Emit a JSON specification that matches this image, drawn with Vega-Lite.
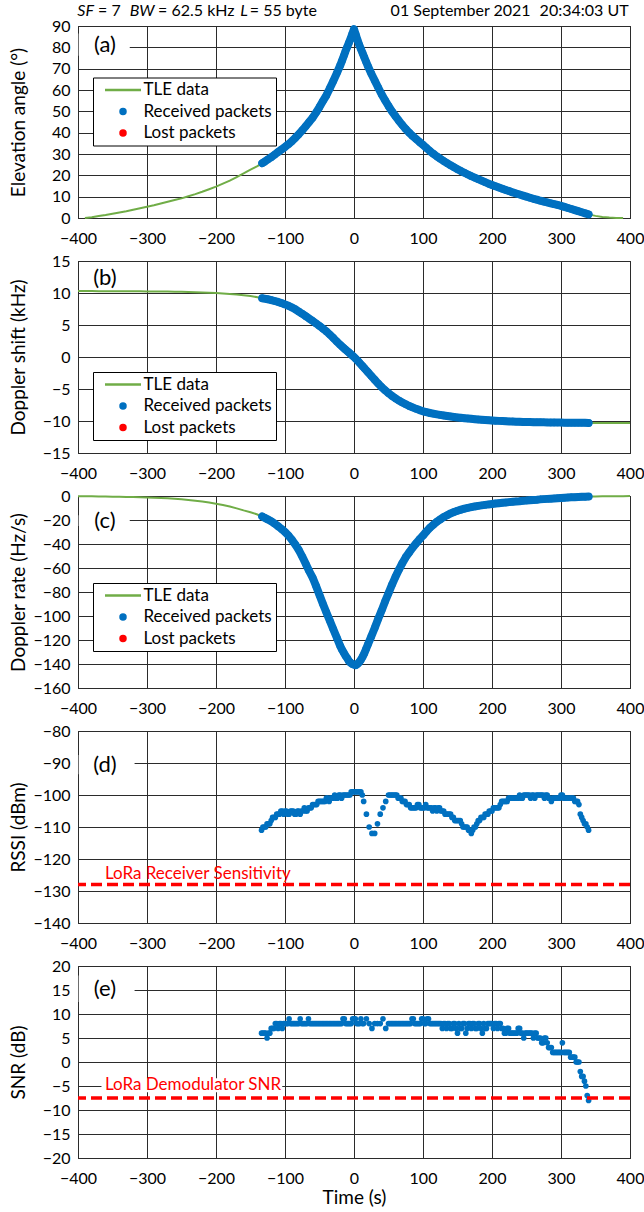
{
  "$schema": "https://vega.github.io/schema/vega-lite/v6.json",
  "padding": {"left": 8, "top": 2, "right": 0, "bottom": 0},
  "spacing": 43,
  "bounds": "flush",
  "config": {
    "font": "Lato",
    "view": {"stroke": "#000", "strokeWidth": 1},
    "axis": {"grid": true, "gridColor": "#2b2b2b", "gridWidth": 1, "domain": false, "ticks": false, "labelOverlap": false, "labelBound": false, "labelFont": "Lato", "labelFontSize": 16, "labelColor": "#000", "titleFont": "Lato", "titleFontSize": 19, "titleFontWeight": "normal", "titleColor": "#000"},
    "axisX": {"labelPadding": 12, "labelFlush": false, "titlePadding": 2},
    "axisY": {"labelPadding": 8, "titleX": -60, "titleBaseline": "middle"},
    "legend": {"labelFont": "Lato"}
  },
  "datasets": {
    "tle": [
      {"t": -400, "e": null, "d": 10.3, "r": -0.2},
      {"t": -390, "e": 0, "d": 10.3, "r": -0.3},
      {"t": -380, "e": 0.4, "d": 10.3, "r": -0.3},
      {"t": -370, "e": 0.9, "d": 10.29, "r": -0.4},
      {"t": -360, "e": 1.4, "d": 10.29, "r": -0.5},
      {"t": -350, "e": 2.0, "d": 10.28, "r": -0.6},
      {"t": -340, "e": 2.6, "d": 10.28, "r": -0.7},
      {"t": -330, "e": 3.2, "d": 10.27, "r": -0.8},
      {"t": -320, "e": 3.9, "d": 10.26, "r": -0.9},
      {"t": -310, "e": 4.6, "d": 10.26, "r": -1.0},
      {"t": -300, "e": 5.3, "d": 10.25, "r": -1.2},
      {"t": -290, "e": 6.0, "d": 10.24, "r": -1.4},
      {"t": -280, "e": 6.8, "d": 10.23, "r": -1.6},
      {"t": -270, "e": 7.6, "d": 10.22, "r": -1.9},
      {"t": -260, "e": 8.4, "d": 10.21, "r": -2.3},
      {"t": -250, "e": 9.2, "d": 10.19, "r": -2.8},
      {"t": -240, "e": 10.2, "d": 10.16, "r": -3.3},
      {"t": -230, "e": 11.2, "d": 10.13, "r": -3.9},
      {"t": -220, "e": 12.3, "d": 10.09, "r": -4.6},
      {"t": -210, "e": 13.5, "d": 10.05, "r": -5.4},
      {"t": -200, "e": 14.7, "d": 10.0, "r": -6.4},
      {"t": -190, "e": 16.1, "d": 9.94, "r": -7.5},
      {"t": -180, "e": 17.5, "d": 9.86, "r": -8.8},
      {"t": -170, "e": 19.2, "d": 9.77, "r": -10.3},
      {"t": -160, "e": 20.9, "d": 9.65, "r": -12.0},
      {"t": -150, "e": 22.7, "d": 9.52, "r": -13.5},
      {"t": -140, "e": 24.3, "d": 9.35, "r": -15.4},
      {"t": -130, "e": 26.3, "d": 9.12, "r": -18},
      {"t": -120, "e": 28.5, "d": 8.9, "r": -21},
      {"t": -110, "e": 30.9, "d": 8.6, "r": -25.2},
      {"t": -100, "e": 33.3, "d": 8.22, "r": -30},
      {"t": -90, "e": 36.0, "d": 7.75, "r": -36.5},
      {"t": -80, "e": 39.3, "d": 7.1, "r": -45},
      {"t": -70, "e": 43.0, "d": 6.38, "r": -56.5},
      {"t": -60, "e": 47.0, "d": 5.65, "r": -68},
      {"t": -50, "e": 52.0, "d": 4.85, "r": -82.5},
      {"t": -40, "e": 57.5, "d": 4.0, "r": -97},
      {"t": -30, "e": 64.2, "d": 2.98, "r": -111},
      {"t": -20, "e": 71.5, "d": 1.9, "r": -125},
      {"t": -10, "e": 80.0, "d": 0.95, "r": -135},
      {"t": 0, "e": 88.5, "d": 0, "r": -140.5},
      {"t": 10, "e": 79.2, "d": -1.15, "r": -136.5},
      {"t": 20, "e": 71.3, "d": -2.35, "r": -124},
      {"t": 30, "e": 64.4, "d": -3.55, "r": -110},
      {"t": 40, "e": 58.0, "d": -4.7, "r": -95.5},
      {"t": 50, "e": 52.5, "d": -5.65, "r": -81},
      {"t": 60, "e": 47.8, "d": -6.45, "r": -67.5},
      {"t": 70, "e": 43.6, "d": -7.1, "r": -56},
      {"t": 80, "e": 40.0, "d": -7.65, "r": -47},
      {"t": 90, "e": 37.0, "d": -8.1, "r": -39.5},
      {"t": 100, "e": 34.3, "d": -8.48, "r": -33},
      {"t": 110, "e": 31.4, "d": -8.75, "r": -26.5},
      {"t": 120, "e": 28.9, "d": -8.96, "r": -21.5},
      {"t": 130, "e": 26.7, "d": -9.14, "r": -17.5},
      {"t": 140, "e": 24.7, "d": -9.3, "r": -14.5},
      {"t": 150, "e": 22.9, "d": -9.44, "r": -12.3},
      {"t": 160, "e": 21.2, "d": -9.56, "r": -10.6},
      {"t": 170, "e": 19.6, "d": -9.66, "r": -9.3},
      {"t": 180, "e": 18.2, "d": -9.76, "r": -8.2},
      {"t": 190, "e": 16.8, "d": -9.84, "r": -7.4},
      {"t": 200, "e": 15.5, "d": -9.92, "r": -6.7},
      {"t": 210, "e": 14.3, "d": -9.98, "r": -6.0},
      {"t": 220, "e": 13.1, "d": -10.04, "r": -5.4},
      {"t": 230, "e": 12.0, "d": -10.08, "r": -4.8},
      {"t": 240, "e": 11.0, "d": -10.12, "r": -4.3},
      {"t": 250, "e": 10.0, "d": -10.15, "r": -3.8},
      {"t": 260, "e": 9.0, "d": -10.18, "r": -3.3},
      {"t": 270, "e": 8.1, "d": -10.2, "r": -2.8},
      {"t": 280, "e": 7.3, "d": -10.22, "r": -2.4},
      {"t": 290, "e": 6.5, "d": -10.24, "r": -2.0},
      {"t": 300, "e": 5.7, "d": -10.25, "r": -1.6},
      {"t": 310, "e": 4.7, "d": -10.27, "r": -1.25},
      {"t": 320, "e": 3.7, "d": -10.28, "r": -0.95},
      {"t": 330, "e": 2.7, "d": -10.29, "r": -0.7},
      {"t": 340, "e": 1.7, "d": -10.3, "r": -0.5},
      {"t": 350, "e": 1.0, "d": -10.3, "r": -0.4},
      {"t": 360, "e": 0.5, "d": -10.31, "r": -0.3},
      {"t": 370, "e": 0.2, "d": -10.31, "r": -0.25},
      {"t": 380, "e": 0.05, "d": -10.32, "r": -0.2},
      {"t": 390, "e": 0, "d": -10.32, "r": -0.15},
      {"t": 400, "e": null, "d": -10.32, "r": -0.1}
    ],
    "rx": [
      {"t": -133, "e": 25.7, "d": 9.18, "r": -17},
      {"t": -130, "e": 26.3, "d": 9.12, "r": -18},
      {"t": -125, "e": 27.4, "d": 9.02, "r": -19.5},
      {"t": -120, "e": 28.5, "d": 8.9, "r": -21},
      {"t": -115, "e": 29.7, "d": 8.75, "r": -23},
      {"t": -110, "e": 30.9, "d": 8.6, "r": -25.2},
      {"t": -105, "e": 32.1, "d": 8.42, "r": -27.5},
      {"t": -100, "e": 33.3, "d": 8.22, "r": -30},
      {"t": -95, "e": 34.6, "d": 8.0, "r": -33},
      {"t": -90, "e": 36.0, "d": 7.75, "r": -36.5},
      {"t": -85, "e": 37.6, "d": 7.45, "r": -40.5},
      {"t": -80, "e": 39.3, "d": 7.1, "r": -45},
      {"t": -75, "e": 41.1, "d": 6.75, "r": -50.5},
      {"t": -70, "e": 43.0, "d": 6.38, "r": -56.5},
      {"t": -65, "e": 45.0, "d": 6.0, "r": -62.5},
      {"t": -60, "e": 47.0, "d": 5.65, "r": -68},
      {"t": -55, "e": 49.4, "d": 5.25, "r": -75},
      {"t": -50, "e": 52.0, "d": 4.85, "r": -82.5},
      {"t": -45, "e": 54.8, "d": 4.43, "r": -90},
      {"t": -40, "e": 57.5, "d": 4.0, "r": -97},
      {"t": -35, "e": 60.8, "d": 3.5, "r": -104},
      {"t": -30, "e": 64.2, "d": 2.98, "r": -111},
      {"t": -25, "e": 67.8, "d": 2.43, "r": -118},
      {"t": -20, "e": 71.5, "d": 1.9, "r": -125},
      {"t": -17.5, "e": 73.6, "d": 1.66, "r": -128},
      {"t": -15, "e": 75.8, "d": 1.42, "r": -130.5},
      {"t": -12.5, "e": 78.0, "d": 1.18, "r": -133},
      {"t": -10, "e": 80.0, "d": 0.95, "r": -135},
      {"t": -7.5, "e": 82.0, "d": 0.72, "r": -137.5},
      {"t": -5, "e": 84.0, "d": 0.48, "r": -139},
      {"t": -2.5, "e": 86.3, "d": 0.24, "r": -140},
      {"t": 0, "e": 88.5, "d": 0, "r": -140.5},
      {"t": 2.5, "e": 86.0, "d": -0.27, "r": -141},
      {"t": 5, "e": 83.5, "d": -0.55, "r": -140},
      {"t": 7.5, "e": 81.2, "d": -0.85, "r": -138.5},
      {"t": 10, "e": 79.2, "d": -1.15, "r": -136.5},
      {"t": 12.5, "e": 77.2, "d": -1.45, "r": -134},
      {"t": 15, "e": 75.2, "d": -1.75, "r": -131},
      {"t": 17.5, "e": 73.2, "d": -2.05, "r": -127.5},
      {"t": 20, "e": 71.3, "d": -2.35, "r": -124},
      {"t": 25, "e": 67.7, "d": -2.95, "r": -117},
      {"t": 30, "e": 64.4, "d": -3.55, "r": -110},
      {"t": 35, "e": 61.2, "d": -4.15, "r": -102.5},
      {"t": 40, "e": 58.0, "d": -4.7, "r": -95.5},
      {"t": 45, "e": 55.2, "d": -5.2, "r": -88},
      {"t": 50, "e": 52.5, "d": -5.65, "r": -81},
      {"t": 55, "e": 50.0, "d": -6.08, "r": -74},
      {"t": 60, "e": 47.8, "d": -6.45, "r": -67.5},
      {"t": 65, "e": 45.6, "d": -6.8, "r": -61.5},
      {"t": 70, "e": 43.6, "d": -7.1, "r": -56},
      {"t": 75, "e": 41.7, "d": -7.38, "r": -51},
      {"t": 80, "e": 40.0, "d": -7.65, "r": -47},
      {"t": 85, "e": 38.4, "d": -7.88, "r": -43},
      {"t": 90, "e": 37.0, "d": -8.1, "r": -39.5},
      {"t": 95, "e": 35.6, "d": -8.3, "r": -36},
      {"t": 100, "e": 34.3, "d": -8.48, "r": -33},
      {"t": 105, "e": 32.8, "d": -8.62, "r": -29.5},
      {"t": 110, "e": 31.4, "d": -8.75, "r": -26.5},
      {"t": 115, "e": 30.1, "d": -8.86, "r": -24},
      {"t": 120, "e": 28.9, "d": -8.96, "r": -21.5},
      {"t": 125, "e": 27.8, "d": -9.05, "r": -19.5},
      {"t": 130, "e": 26.7, "d": -9.14, "r": -17.5},
      {"t": 135, "e": 25.7, "d": -9.22, "r": -16},
      {"t": 140, "e": 24.7, "d": -9.3, "r": -14.5},
      {"t": 145, "e": 23.8, "d": -9.37, "r": -13.3},
      {"t": 150, "e": 22.9, "d": -9.44, "r": -12.3},
      {"t": 155, "e": 22.0, "d": -9.5, "r": -11.4},
      {"t": 160, "e": 21.2, "d": -9.56, "r": -10.6},
      {"t": 165, "e": 20.4, "d": -9.61, "r": -9.9},
      {"t": 170, "e": 19.6, "d": -9.66, "r": -9.3},
      {"t": 175, "e": 18.9, "d": -9.71, "r": -8.7},
      {"t": 180, "e": 18.2, "d": -9.76, "r": -8.2},
      {"t": 185, "e": 17.5, "d": -9.8, "r": -7.8},
      {"t": 190, "e": 16.8, "d": -9.84, "r": -7.4},
      {"t": 195, "e": 16.1, "d": -9.88, "r": -7.0},
      {"t": 200, "e": 15.5, "d": -9.92, "r": -6.7},
      {"t": 205, "e": 14.9, "d": -9.95, "r": -6.3},
      {"t": 210, "e": 14.3, "d": -9.98, "r": -6.0},
      {"t": 215, "e": 13.7, "d": -10.01, "r": -5.7},
      {"t": 220, "e": 13.1, "d": -10.04, "r": -5.4},
      {"t": 225, "e": 12.6, "d": -10.06, "r": -5.1},
      {"t": 230, "e": 12.0, "d": -10.08, "r": -4.8},
      {"t": 235, "e": 11.5, "d": -10.1, "r": -4.5},
      {"t": 240, "e": 11.0, "d": -10.12, "r": -4.3},
      {"t": 245, "e": 10.5, "d": -10.14, "r": -4.0},
      {"t": 250, "e": 10.0, "d": -10.15, "r": -3.8},
      {"t": 255, "e": 9.5, "d": -10.17, "r": -3.5},
      {"t": 260, "e": 9.0, "d": -10.18, "r": -3.3},
      {"t": 265, "e": 8.6, "d": -10.19, "r": -3.1},
      {"t": 270, "e": 8.1, "d": -10.2, "r": -2.8},
      {"t": 275, "e": 7.7, "d": -10.21, "r": -2.6},
      {"t": 280, "e": 7.3, "d": -10.22, "r": -2.4},
      {"t": 285, "e": 6.9, "d": -10.23, "r": -2.2},
      {"t": 290, "e": 6.5, "d": -10.24, "r": -2.0},
      {"t": 295, "e": 6.1, "d": -10.25, "r": -1.8},
      {"t": 300, "e": 5.7, "d": -10.25, "r": -1.6},
      {"t": 305, "e": 5.2, "d": -10.26, "r": -1.4},
      {"t": 310, "e": 4.7, "d": -10.27, "r": -1.25},
      {"t": 315, "e": 4.2, "d": -10.27, "r": -1.1},
      {"t": 320, "e": 3.7, "d": -10.28, "r": -0.95},
      {"t": 325, "e": 3.2, "d": -10.28, "r": -0.8},
      {"t": 330, "e": 2.7, "d": -10.29, "r": -0.7},
      {"t": 335, "e": 2.2, "d": -10.29, "r": -0.6},
      {"t": 340, "e": 1.7, "d": -10.3, "r": -0.5}
    ],
    "rs": [
      {"t": -134, "p": -111, "s": 6}, {"t": -132, "p": -110, "s": 6}, {"t": -130, "p": -110, "s": 6}, {"t": -128, "p": -110, "s": 6},
      {"t": -126, "p": -109, "s": 5}, {"t": -124, "p": -109, "s": 6}, {"t": -122, "p": -109, "s": 6}, {"t": -120, "p": -108, "s": 7},
      {"t": -118, "p": -107, "s": 7}, {"t": -116, "p": -107, "s": 7}, {"t": -114, "p": -107, "s": 8}, {"t": -112, "p": -106, "s": 8},
      {"t": -110, "p": -106, "s": 7}, {"t": -108, "p": -106, "s": 8}, {"t": -106, "p": -105, "s": 8}, {"t": -104, "p": -105, "s": 7},
      {"t": -102, "p": -106, "s": 8}, {"t": -100, "p": -105, "s": 8}, {"t": -98, "p": -105, "s": 8}, {"t": -96, "p": -106, "s": 8},
      {"t": -94, "p": -106, "s": 9}, {"t": -92, "p": -105, "s": 8}, {"t": -90, "p": -105, "s": 8}, {"t": -88, "p": -105, "s": 8},
      {"t": -86, "p": -106, "s": 8}, {"t": -84, "p": -106, "s": 8}, {"t": -82, "p": -105, "s": 8}, {"t": -80, "p": -105, "s": 8},
      {"t": -78, "p": -106, "s": 9}, {"t": -76, "p": -105, "s": 8}, {"t": -74, "p": -105, "s": 8}, {"t": -72, "p": -104, "s": 8},
      {"t": -70, "p": -105, "s": 8}, {"t": -68, "p": -105, "s": 8}, {"t": -66, "p": -104, "s": 9}, {"t": -64, "p": -104, "s": 8},
      {"t": -62, "p": -104, "s": 8}, {"t": -60, "p": -103, "s": 8}, {"t": -58, "p": -103, "s": 8}, {"t": -56, "p": -103, "s": 8},
      {"t": -54, "p": -103, "s": 8}, {"t": -52, "p": -102, "s": 8}, {"t": -50, "p": -102, "s": 8}, {"t": -48, "p": -102, "s": 8},
      {"t": -46, "p": -102, "s": 8}, {"t": -44, "p": -102, "s": 8}, {"t": -42, "p": -102, "s": 8}, {"t": -40, "p": -101, "s": 8},
      {"t": -38, "p": -101, "s": 8}, {"t": -36, "p": -102, "s": 8}, {"t": -34, "p": -101, "s": 8}, {"t": -32, "p": -101, "s": 8},
      {"t": -30, "p": -101, "s": 8}, {"t": -28, "p": -100, "s": 8}, {"t": -26, "p": -101, "s": 8}, {"t": -24, "p": -101, "s": 8},
      {"t": -22, "p": -100, "s": 8}, {"t": -20, "p": -100, "s": 8}, {"t": -18, "p": -101, "s": 8}, {"t": -16, "p": -100, "s": 9},
      {"t": -14, "p": -100, "s": 9}, {"t": -12, "p": -100, "s": 8}, {"t": -10, "p": -100, "s": 8}, {"t": -8, "p": -100, "s": 8},
      {"t": -6, "p": -100, "s": 8}, {"t": -4, "p": -99, "s": 8}, {"t": -2, "p": -99, "s": 9}, {"t": 0, "p": -99, "s": 9},
      {"t": 2, "p": -99, "s": 9}, {"t": 4, "p": -99, "s": 8}, {"t": 6, "p": -99, "s": 8}, {"t": 8, "p": -99, "s": 8},
      {"t": 10, "p": -99, "s": 9}, {"t": 12, "p": -100, "s": 8}, {"t": 14, "p": -102, "s": 8}, {"t": 18, "p": -106, "s": 9},
      {"t": 22, "p": -110, "s": 8}, {"t": 26, "p": -112, "s": 7}, {"t": 30, "p": -112, "s": 8}, {"t": 34, "p": -109, "s": 8},
      {"t": 38, "p": -106, "s": 8}, {"t": 42, "p": -104, "s": 9}, {"t": 46, "p": -102, "s": 7}, {"t": 50, "p": -100, "s": 8},
      {"t": 52, "p": -100, "s": 8}, {"t": 54, "p": -100, "s": 8}, {"t": 56, "p": -100, "s": 8}, {"t": 58, "p": -100, "s": 8},
      {"t": 60, "p": -100, "s": 8}, {"t": 62, "p": -100, "s": 8}, {"t": 64, "p": -101, "s": 8}, {"t": 66, "p": -101, "s": 8},
      {"t": 68, "p": -101, "s": 8}, {"t": 70, "p": -102, "s": 8}, {"t": 72, "p": -102, "s": 8}, {"t": 74, "p": -102, "s": 8},
      {"t": 76, "p": -103, "s": 8}, {"t": 78, "p": -103, "s": 8}, {"t": 80, "p": -103, "s": 8}, {"t": 82, "p": -104, "s": 8},
      {"t": 84, "p": -104, "s": 9}, {"t": 86, "p": -104, "s": 9}, {"t": 88, "p": -104, "s": 8}, {"t": 90, "p": -104, "s": 8},
      {"t": 92, "p": -103, "s": 8}, {"t": 94, "p": -103, "s": 8}, {"t": 96, "p": -104, "s": 8}, {"t": 98, "p": -104, "s": 9},
      {"t": 100, "p": -104, "s": 9}, {"t": 102, "p": -104, "s": 8}, {"t": 104, "p": -103, "s": 8}, {"t": 106, "p": -104, "s": 9},
      {"t": 108, "p": -104, "s": 9}, {"t": 110, "p": -104, "s": 8}, {"t": 112, "p": -104, "s": 8}, {"t": 114, "p": -105, "s": 8},
      {"t": 116, "p": -104, "s": 8}, {"t": 118, "p": -104, "s": 8}, {"t": 120, "p": -105, "s": 8}, {"t": 122, "p": -104, "s": 8},
      {"t": 124, "p": -104, "s": 8}, {"t": 126, "p": -105, "s": 8}, {"t": 128, "p": -105, "s": 7}, {"t": 130, "p": -105, "s": 8},
      {"t": 132, "p": -106, "s": 8}, {"t": 134, "p": -106, "s": 7}, {"t": 136, "p": -106, "s": 8}, {"t": 138, "p": -106, "s": 8},
      {"t": 140, "p": -106, "s": 7}, {"t": 142, "p": -107, "s": 7}, {"t": 144, "p": -107, "s": 8}, {"t": 146, "p": -108, "s": 8},
      {"t": 148, "p": -108, "s": 7}, {"t": 150, "p": -108, "s": 6}, {"t": 152, "p": -108, "s": 8}, {"t": 154, "p": -108, "s": 7},
      {"t": 156, "p": -109, "s": 7}, {"t": 158, "p": -110, "s": 8}, {"t": 160, "p": -110, "s": 8}, {"t": 162, "p": -110, "s": 6},
      {"t": 164, "p": -110, "s": 7}, {"t": 166, "p": -111, "s": 8}, {"t": 168, "p": -111, "s": 8}, {"t": 170, "p": -112, "s": 7},
      {"t": 172, "p": -111, "s": 8}, {"t": 174, "p": -110, "s": 8}, {"t": 176, "p": -110, "s": 7}, {"t": 178, "p": -109, "s": 7},
      {"t": 180, "p": -108, "s": 8}, {"t": 182, "p": -108, "s": 8}, {"t": 184, "p": -107, "s": 7}, {"t": 186, "p": -107, "s": 6},
      {"t": 188, "p": -107, "s": 8}, {"t": 190, "p": -106, "s": 7}, {"t": 192, "p": -106, "s": 7}, {"t": 194, "p": -106, "s": 8},
      {"t": 196, "p": -105, "s": 8}, {"t": 198, "p": -105, "s": 8}, {"t": 200, "p": -105, "s": 8}, {"t": 202, "p": -104, "s": 7},
      {"t": 204, "p": -104, "s": 8}, {"t": 206, "p": -104, "s": 8}, {"t": 208, "p": -104, "s": 7}, {"t": 210, "p": -104, "s": 8},
      {"t": 212, "p": -103, "s": 8}, {"t": 214, "p": -102, "s": 7}, {"t": 216, "p": -102, "s": 7}, {"t": 218, "p": -102, "s": 6},
      {"t": 220, "p": -102, "s": 6}, {"t": 222, "p": -102, "s": 7}, {"t": 224, "p": -101, "s": 7}, {"t": 226, "p": -101, "s": 6},
      {"t": 228, "p": -101, "s": 6}, {"t": 230, "p": -101, "s": 6}, {"t": 232, "p": -101, "s": 6}, {"t": 234, "p": -101, "s": 6},
      {"t": 236, "p": -101, "s": 6}, {"t": 238, "p": -101, "s": 7}, {"t": 240, "p": -100, "s": 7}, {"t": 242, "p": -101, "s": 6},
      {"t": 244, "p": -101, "s": 6}, {"t": 246, "p": -100, "s": 5}, {"t": 248, "p": -100, "s": 6}, {"t": 250, "p": -100, "s": 6},
      {"t": 252, "p": -100, "s": 6}, {"t": 254, "p": -100, "s": 6}, {"t": 256, "p": -101, "s": 6}, {"t": 258, "p": -100, "s": 6},
      {"t": 260, "p": -100, "s": 5}, {"t": 262, "p": -101, "s": 6}, {"t": 264, "p": -100, "s": 6}, {"t": 266, "p": -100, "s": 5},
      {"t": 268, "p": -100, "s": 5}, {"t": 270, "p": -100, "s": 5}, {"t": 272, "p": -100, "s": 4}, {"t": 274, "p": -100, "s": 4},
      {"t": 276, "p": -101, "s": 5}, {"t": 278, "p": -100, "s": 5}, {"t": 280, "p": -100, "s": 4}, {"t": 282, "p": -101, "s": 3},
      {"t": 284, "p": -101, "s": 3}, {"t": 286, "p": -102, "s": 3}, {"t": 288, "p": -101, "s": 2}, {"t": 290, "p": -101, "s": 2},
      {"t": 292, "p": -101, "s": 2}, {"t": 294, "p": -101, "s": 2}, {"t": 296, "p": -101, "s": 2}, {"t": 298, "p": -101, "s": 2},
      {"t": 300, "p": -100, "s": 2}, {"t": 302, "p": -100, "s": 4}, {"t": 304, "p": -101, "s": 2}, {"t": 306, "p": -101, "s": 2},
      {"t": 308, "p": -101, "s": 2}, {"t": 310, "p": -101, "s": 2}, {"t": 312, "p": -101, "s": 2}, {"t": 314, "p": -101, "s": 1},
      {"t": 316, "p": -101, "s": 1}, {"t": 318, "p": -101, "s": 1}, {"t": 320, "p": -102, "s": 1}, {"t": 322, "p": -102, "s": 0},
      {"t": 324, "p": -102, "s": 0}, {"t": 326, "p": -103, "s": 0}, {"t": 328, "p": -106, "s": -2}, {"t": 330, "p": -107, "s": -3},
      {"t": 332, "p": -108, "s": -3}, {"t": 334, "p": -109, "s": -4}, {"t": 336, "p": -109, "s": -5}, {"t": 338, "p": -110, "s": -7},
      {"t": 340, "p": -111, "s": -8}
    ]
  },
  "resolve": {"scale": {"color": "independent"}, "legend": {"color": "independent"}},
  "vconcat": [
    {
      "width": 552, "height": 192,
      "layer": [
        {"data": {"name": "tle"}, "mark": {"type": "line", "color": "#70ad47", "strokeWidth": 2},
         "encoding": {
           "x": {"field": "t", "type": "quantitative", "scale": {"domain": [-400, 400], "nice": false}, "axis": {"values": [-400,-300,-200,-100,0,100,200,300,400], "tickCount": 20, "title": null, "labelOverlap": false}},
           "y": {"field": "e", "type": "quantitative", "scale": {"domain": [0, 90], "nice": false}, "axis": {"values": [0,10,20,30,40,50,60,70,80,90], "tickCount": 20, "title": "Elevation angle (°)", "labelOverlap": false}},
           "color": {"datum": "TLE data", "scale": {"domain": ["TLE data", "Received packets", "Lost packets"], "range": ["#70ad47", "#0070c0", "#ff0000"]},
             "legend": {"title": null, "orient": "none", "legendX": 15, "legendY": 51.5, "padding": 4, "strokeColor": "#000", "fillColor": "#fff", "symbolSize": 25, "symbolOffset": 17.5, "labelOffset": 12, "labelFontSize": 17, "labelColor": "#000", "rowPadding": 3.5,
               "encoding": {"symbols": {
                 "shape": {"value": {"expr": "datum.value === 'TLE data' ? 'M-7.2,0H7.2' : 'circle'"}},
                 "fill": {"value": {"expr": "datum.value === 'TLE data' ? 'transparent' : (datum.value === 'Received packets' ? '#0070c0' : '#ff0000')"}},
                 "stroke": {"value": {"expr": "datum.value === 'TLE data' ? '#70ad47' : 'transparent'"}},
                 "strokeWidth": {"value": 2.5},
                 "opacity": {"value": 1}}}}}
         }},
        {"data": {"name": "rx"}, "mark": {"type": "line", "color": "#0070c0", "strokeWidth": 8, "strokeCap": "round", "strokeJoin": "round"},
         "encoding": {"x": {"field": "t", "type": "quantitative"}, "y": {"field": "e", "type": "quantitative"}}},
        {"data": {"name": "rx"}, "mark": {"type": "point", "filled": true, "size": 55, "opacity": 1},
         "encoding": {"x": {"field": "t", "type": "quantitative"}, "y": {"field": "e", "type": "quantitative"}, "color": {"datum": "Received packets"}}},
        {"data": {"values": [{}]}, "mark": {"type": "rect", "color": "#fff"},
         "encoding": {"x": {"datum": -399}, "x2": {"datum": -325}, "y": {"datum": 76}, "y2": {"datum": 86.5}}},
        {"data": {"values": [{}]}, "mark": {"type": "text", "fontSize": 22, "align": "center", "baseline": "middle", "color": "#000"},
         "encoding": {"x": {"datum": -361}, "y": {"datum": 81}, "text": {"value": "(a)"}}},
        {"data": {"values": [{}]}, "mark": {"type": "text", "fontSize": 16, "fontStyle": "italic", "align": "left", "baseline": "middle", "color": "#000"},
         "encoding": {"x": {"datum": -401}, "y": {"datum": 97}, "text": {"value": "SF"}}},
        {"data": {"values": [{}]}, "mark": {"type": "text", "fontSize": 16, "align": "left", "baseline": "middle", "color": "#000"},
         "encoding": {"x": {"datum": -371}, "y": {"datum": 97}, "text": {"value": "= 7"}}},
        {"data": {"values": [{}]}, "mark": {"type": "text", "fontSize": 16, "fontStyle": "italic", "align": "left", "baseline": "middle", "color": "#000"},
         "encoding": {"x": {"datum": -325}, "y": {"datum": 97}, "text": {"value": "BW"}}},
        {"data": {"values": [{}]}, "mark": {"type": "text", "fontSize": 16, "align": "left", "baseline": "middle", "color": "#000"},
         "encoding": {"x": {"datum": -284}, "y": {"datum": 97}, "text": {"value": "= 62.5 kHz"}}},
        {"data": {"values": [{}]}, "mark": {"type": "text", "fontSize": 16, "fontStyle": "italic", "align": "left", "baseline": "middle", "color": "#000"},
         "encoding": {"x": {"datum": -165}, "y": {"datum": 97}, "text": {"value": "L"}}},
        {"data": {"values": [{}]}, "mark": {"type": "text", "fontSize": 16, "align": "left", "baseline": "middle", "color": "#000"},
         "encoding": {"x": {"datum": -151}, "y": {"datum": 97}, "text": {"value": "= 55 byte"}}},
        {"data": {"values": [{}]}, "mark": {"type": "text", "fontSize": 16, "align": "right", "baseline": "middle", "color": "#000"},
         "encoding": {"x": {"datum": 256}, "y": {"datum": 97}, "text": {"value": "01 September 2021"}}},
        {"data": {"values": [{}]}, "mark": {"type": "text", "fontSize": 16, "align": "right", "baseline": "middle", "color": "#000"},
         "encoding": {"x": {"datum": 398}, "y": {"datum": 97}, "text": {"value": "20:34:03 UT"}}}
      ]
    },
    {
      "width": 552, "height": 192,
      "layer": [
        {"data": {"name": "tle"}, "mark": {"type": "line", "color": "#70ad47", "strokeWidth": 2},
         "encoding": {
           "x": {"field": "t", "type": "quantitative", "scale": {"domain": [-400, 400], "nice": false}, "axis": {"values": [-400,-300,-200,-100,0,100,200,300,400], "tickCount": 20, "title": null, "labelOverlap": false}},
           "y": {"field": "d", "type": "quantitative", "scale": {"domain": [-15, 15], "nice": false}, "axis": {"values": [-15,-10,-5,0,5,10,15], "tickCount": 20, "title": "Doppler shift (kHz)", "labelOverlap": false}},
           "color": {"datum": "TLE data", "scale": {"domain": ["TLE data", "Received packets", "Lost packets"], "range": ["#70ad47", "#0070c0", "#ff0000"]},
             "legend": {"title": null, "orient": "none", "legendX": 15, "legendY": 111, "padding": 4, "strokeColor": "#000", "fillColor": "#fff", "symbolSize": 25, "symbolOffset": 17.5, "labelOffset": 12, "labelFontSize": 17, "labelColor": "#000", "rowPadding": 3.5,
               "encoding": {"symbols": {
                 "shape": {"value": {"expr": "datum.value === 'TLE data' ? 'M-7.2,0H7.2' : 'circle'"}},
                 "fill": {"value": {"expr": "datum.value === 'TLE data' ? 'transparent' : (datum.value === 'Received packets' ? '#0070c0' : '#ff0000')"}},
                 "stroke": {"value": {"expr": "datum.value === 'TLE data' ? '#70ad47' : 'transparent'"}},
                 "strokeWidth": {"value": 2.5},
                 "opacity": {"value": 1}}}}}
         }},
        {"data": {"name": "rx"}, "mark": {"type": "line", "color": "#0070c0", "strokeWidth": 8, "strokeCap": "round", "strokeJoin": "round"},
         "encoding": {"x": {"field": "t", "type": "quantitative"}, "y": {"field": "d", "type": "quantitative"}}},
        {"data": {"name": "rx"}, "mark": {"type": "point", "filled": true, "size": 55, "opacity": 1},
         "encoding": {"x": {"field": "t", "type": "quantitative"}, "y": {"field": "d", "type": "quantitative"}, "color": {"datum": "Received packets"}}},
        {"data": {"values": [{}]}, "mark": {"type": "text", "fontSize": 22, "align": "center", "baseline": "middle", "color": "#000"},
         "encoding": {"x": {"datum": -361}, "y": {"datum": 12.4}, "text": {"value": "(b)"}}}
      ]
    },
    {
      "width": 552, "height": 192,
      "layer": [
        {"data": {"name": "tle"}, "mark": {"type": "line", "color": "#70ad47", "strokeWidth": 2},
         "encoding": {
           "x": {"field": "t", "type": "quantitative", "scale": {"domain": [-400, 400], "nice": false}, "axis": {"values": [-400,-300,-200,-100,0,100,200,300,400], "tickCount": 20, "title": null, "labelOverlap": false}},
           "y": {"field": "r", "type": "quantitative", "scale": {"domain": [-160, 0], "nice": false}, "axis": {"values": [-160,-140,-120,-100,-80,-60,-40,-20,0], "tickCount": 20, "title": "Doppler rate (Hz/s)", "labelOverlap": false}},
           "color": {"datum": "TLE data", "scale": {"domain": ["TLE data", "Received packets", "Lost packets"], "range": ["#70ad47", "#0070c0", "#ff0000"]},
             "legend": {"title": null, "orient": "none", "legendX": 15, "legendY": 87, "padding": 4, "strokeColor": "#000", "fillColor": "#fff", "symbolSize": 25, "symbolOffset": 17.5, "labelOffset": 12, "labelFontSize": 17, "labelColor": "#000", "rowPadding": 3.5,
               "encoding": {"symbols": {
                 "shape": {"value": {"expr": "datum.value === 'TLE data' ? 'M-7.2,0H7.2' : 'circle'"}},
                 "fill": {"value": {"expr": "datum.value === 'TLE data' ? 'transparent' : (datum.value === 'Received packets' ? '#0070c0' : '#ff0000')"}},
                 "stroke": {"value": {"expr": "datum.value === 'TLE data' ? '#70ad47' : 'transparent'"}},
                 "strokeWidth": {"value": 2.5},
                 "opacity": {"value": 1}}}}}
         }},
        {"data": {"name": "rx"}, "mark": {"type": "line", "color": "#0070c0", "strokeWidth": 8, "strokeCap": "round", "strokeJoin": "round"},
         "encoding": {"x": {"field": "t", "type": "quantitative"}, "y": {"field": "r", "type": "quantitative"}}},
        {"data": {"name": "rx"}, "mark": {"type": "point", "filled": true, "size": 55, "opacity": 1},
         "encoding": {"x": {"field": "t", "type": "quantitative"}, "y": {"field": "r", "type": "quantitative"}, "color": {"datum": "Received packets"}}},
        {"data": {"values": [{}]}, "mark": {"type": "rect", "color": "#fff"},
         "encoding": {"x": {"datum": -399}, "x2": {"datum": -325}, "y": {"datum": -25}, "y2": {"datum": -16}}},
        {"data": {"values": [{}]}, "mark": {"type": "text", "fontSize": 22, "align": "center", "baseline": "middle", "color": "#000"},
         "encoding": {"x": {"datum": -361}, "y": {"datum": -20.5}, "text": {"value": "(c)"}}}
      ]
    },
    {
      "width": 552, "height": 192,
      "layer": [
        {"data": {"name": "rs"}, "mark": {"type": "point", "filled": true, "size": 32, "opacity": 1, "color": "#0070c0"},
         "encoding": {
           "x": {"field": "t", "type": "quantitative", "scale": {"domain": [-400, 400], "nice": false}, "axis": {"values": [-400,-300,-200,-100,0,100,200,300,400], "tickCount": 20, "title": null, "labelOverlap": false}},
           "y": {"field": "p", "type": "quantitative", "scale": {"domain": [-140, -80], "nice": false}, "axis": {"values": [-140,-130,-120,-110,-100,-90,-80], "tickCount": 20, "title": "RSSI (dBm)", "labelOverlap": false}}
         }},
        {"data": {"values": [{}]}, "mark": {"type": "rule", "color": "#ff0000", "strokeWidth": 3.5, "strokeDash": [11, 5]},
         "encoding": {"y": {"datum": -128}}},
        {"data": {"values": [{}]}, "mark": {"type": "text", "fontSize": 17, "align": "left", "baseline": "middle", "color": "#ff0000"},
         "encoding": {"x": {"datum": -361}, "y": {"datum": -124.6}, "text": {"value": "LoRa Receiver Sensitivity"}}},
        {"data": {"values": [{}]}, "mark": {"type": "rect", "color": "#fff"},
         "encoding": {"x": {"datum": -399}, "x2": {"datum": -318}, "y": {"datum": -93.5}, "y2": {"datum": -87.5}}},
        {"data": {"values": [{}]}, "mark": {"type": "text", "fontSize": 22, "align": "center", "baseline": "middle", "color": "#000"},
         "encoding": {"x": {"datum": -361}, "y": {"datum": -90.6}, "text": {"value": "(d)"}}}
      ]
    },
    {
      "width": 552, "height": 192,
      "layer": [
        {"data": {"values": [{}]}, "mark": {"type": "rect", "color": "#fff"},
         "encoding": {
           "x": {"datum": -366, "type": "quantitative", "scale": {"domain": [-400, 400], "nice": false}, "axis": {"values": [-400,-300,-200,-100,0,100,200,300,400], "tickCount": 20, "title": "Time (s)", "labelOverlap": false}},
           "x2": {"datum": -104},
           "y": {"datum": -6.3, "type": "quantitative", "scale": {"domain": [-20, 20], "nice": false}, "axis": {"values": [-20,-15,-10,-5,0,5,10,15,20], "tickCount": 20, "title": "SNR (dB)", "labelOverlap": false}},
           "y2": {"datum": -3.4}}},
        {"data": {"name": "rs"}, "mark": {"type": "point", "filled": true, "size": 32, "opacity": 1, "color": "#0070c0"},
         "encoding": {"x": {"field": "t", "type": "quantitative"}, "y": {"field": "s", "type": "quantitative"}}},
        {"data": {"values": [{}]}, "mark": {"type": "rule", "color": "#ff0000", "strokeWidth": 3.5, "strokeDash": [11, 5]},
         "encoding": {"y": {"datum": -7.5}}},
        {"data": {"values": [{}]}, "mark": {"type": "text", "fontSize": 17, "align": "left", "baseline": "middle", "color": "#ff0000"},
         "encoding": {"x": {"datum": -361}, "y": {"datum": -4.8}, "text": {"value": "LoRa Demodulator SNR"}}},
        {"data": {"values": [{}]}, "mark": {"type": "rect", "color": "#fff"},
         "encoding": {"x": {"datum": -399}, "x2": {"datum": -318}, "y": {"datum": 12.5}, "y2": {"datum": 18}}},
        {"data": {"values": [{}]}, "mark": {"type": "text", "fontSize": 22, "align": "center", "baseline": "middle", "color": "#000"},
         "encoding": {"x": {"datum": -361}, "y": {"datum": 15.2}, "text": {"value": "(e)"}}}
      ]
    }
  ]
}
